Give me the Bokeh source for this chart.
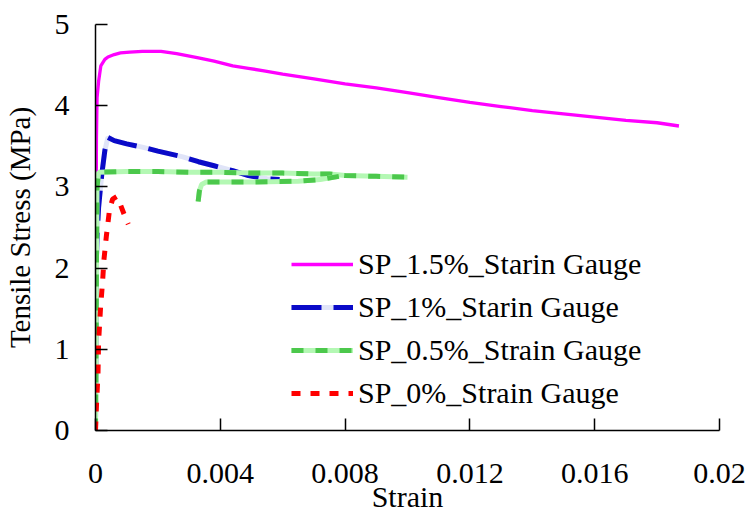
from bokeh.plotting import figure
from bokeh.models import Range1d, FixedTicker, Legend, LegendItem
from bokeh.embed import file_html
from bokeh.resources import INLINE

# ---- data ----
x_ticks = [0, 0.004, 0.008, 0.012, 0.016, 0.02]
x_tick_labels = ["0", "0.004", "0.008", "0.012", "0.016", "0.02"]
y_ticks = [0, 1, 2, 3, 4, 5]
x_title = "Strain"
y_title = "Tensile Stress (MPa)"

sp15_strain = [0, 0.00001, 0.00002, 0.00003, 0.00005, 0.0001, 0.00017, 0.0003, 0.0004, 0.0006,
               0.0008, 0.0011, 0.0015, 0.0021, 0.0026, 0.0033, 0.0038, 0.0044, 0.0049, 0.0054,
               0.006, 0.007, 0.008, 0.009, 0.010, 0.011, 0.012, 0.013, 0.014, 0.015, 0.016,
               0.017, 0.018, 0.0187]
sp15_stress = [0, 1.2, 2.6, 3.6, 4.1, 4.3, 4.49, 4.57, 4.6, 4.63,
               4.65, 4.66, 4.67, 4.67, 4.64, 4.59, 4.55, 4.49, 4.46, 4.43,
               4.39, 4.33, 4.27, 4.22, 4.16, 4.10, 4.04, 3.99, 3.94, 3.90, 3.86,
               3.82, 3.79, 3.75]

sp1_strain = [0, 0.00001, 0.00002, 0.00005, 0.0001, 0.0002, 0.0003, 0.0004, 0.0006, 0.001,
              0.0015, 0.002, 0.0028, 0.0033, 0.0038, 0.0044, 0.0049, 0.0055, 0.0059]
sp1_stress = [0, 1.2, 2.0, 2.4, 2.75, 3.15, 3.45, 3.61, 3.57, 3.53,
              3.49, 3.44, 3.37, 3.31, 3.26, 3.2, 3.14, 3.1, 3.09]

sp05_strain = [0, 0.00002, 0.00003, 0.00005, 0.0001, 0.001, 0.002, 0.003, 0.004, 0.005,
               0.006, 0.007, 0.0075, 0.008, 0.009, 0.010]
sp05_stress = [0, 1.0, 2.0, 3.0, 3.18, 3.19, 3.19, 3.18, 3.18, 3.17,
               3.17, 3.16, 3.16, 3.14, 3.13, 3.12]
sp05b_strain = [0.00329, 0.00333, 0.0034, 0.00355, 0.005, 0.0065, 0.0072, 0.0078]
sp05b_stress = [2.82, 2.95, 3.03, 3.06, 3.06, 3.07, 3.09, 3.13]

sp0_strain = [0, 0.00003, 0.00008, 0.0001, 0.00016, 0.00023, 0.00027, 0.00035, 0.00045,
              0.00055, 0.00068, 0.0008, 0.00092, 0.00105]
sp0_stress = [0, 0.3, 0.7, 1.1, 1.5, 1.85, 2.1, 2.4, 2.72,
              2.85, 2.88, 2.78, 2.66, 2.54]

labels = ["SP_1.5%_Starin Gauge", "SP_1%_Starin Gauge",
          "SP_0.5%_Strain Gauge", "SP_0%_Strain Gauge"]

FONT = "Liberation Serif"

p = figure(width=748, height=527, x_range=Range1d(0, 0.02), y_range=Range1d(0, 5),
           output_backend="svg", toolbar_location=None,
           min_border_left=94, min_border_right=29, min_border_top=24, min_border_bottom=97)
p.xgrid.visible = False
p.ygrid.visible = False
p.outline_line_color = None
p.background_fill_color = "white"

for ax in (p.xaxis, p.yaxis):
    ax.major_tick_in = 12
    ax.major_tick_out = 0
    ax.minor_tick_in = 0
    ax.minor_tick_out = 0
    ax.axis_line_color = "black"
    ax.axis_line_width = 1.5
    ax.major_tick_line_color = "black"
    ax.major_tick_line_width = 1.5
    ax.major_label_text_font = FONT
    ax.major_label_text_font_size = "30px"
    ax.major_label_text_color = "black"
    ax.axis_label_text_font = FONT
    ax.axis_label_text_font_style = "normal"
    ax.axis_label_text_color = "black"

p.xaxis.ticker = FixedTicker(ticks=x_ticks, minor_ticks=[])
p.xaxis.major_label_overrides = dict(zip(x_ticks, x_tick_labels))
p.xaxis.major_label_standoff = 33
p.xaxis.axis_label = x_title
p.xaxis.axis_label_text_font_size = "30px"
p.xaxis.axis_label_standoff = -6

p.yaxis.ticker = FixedTicker(ticks=y_ticks, minor_ticks=[])
p.yaxis.major_label_standoff = 26
p.yaxis.axis_label = y_title
p.yaxis.axis_label_text_font_size = "29px"
p.yaxis.axis_label_standoff = 16

# series
r15 = p.line(sp15_strain, sp15_stress, line_color="#FF00FF", line_width=3.3)

r1a = p.line(sp1_strain, sp1_stress, line_color="#E0E4F8", line_width=5)
r1b = p.line(sp1_strain, sp1_stress, line_color="#0A0AC8", line_width=5, line_dash="30 12")

r05a = p.line(sp05_strain, sp05_stress, line_color="#B4F8B4", line_width=5)
r05b = p.line(sp05_strain, sp05_stress, line_color="#4CC84C", line_width=5, line_dash="12 12")
p.line(sp05b_strain, sp05b_stress, line_color="#B4F8B4", line_width=5)
p.line(sp05b_strain, sp05b_stress, line_color="#4CC84C", line_width=5, line_dash="12 12")

r0 = p.line(sp0_strain, sp0_stress, line_color="#FF0000", line_width=5, line_dash="9 10")

legend = Legend(items=[
    LegendItem(label=labels[0], renderers=[r15]),
    LegendItem(label=labels[1], renderers=[r1a, r1b]),
    LegendItem(label=labels[2], renderers=[r05a, r05b]),
    LegendItem(label=labels[3], renderers=[r0]),
], location=(196, 20))
legend.glyph_width = 62
legend.glyph_height = 34
legend.label_height = 34
legend.label_standoff = 5
legend.spacing = 9
legend.padding = 0
legend.margin = 0
legend.border_line_alpha = 0
legend.background_fill_alpha = 0
legend.label_text_font = FONT
legend.label_text_font_size = "30px"
legend.label_text_color = "black"
p.add_layout(legend)

open("out.html", "w").write(file_html(p, INLINE))
